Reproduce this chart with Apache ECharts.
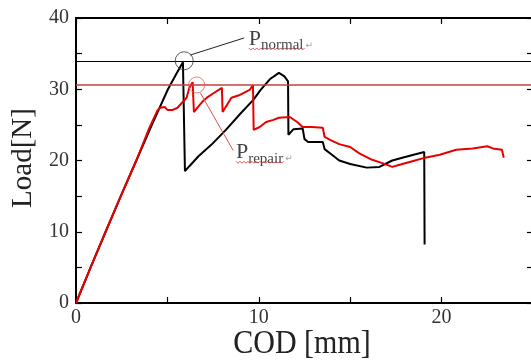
<!DOCTYPE html>
<html><head><meta charset="utf-8">
<script src="https://cdn.jsdelivr.net/npm/echarts@6/dist/echarts.min.js"></script>
<style>html,body{margin:0;padding:0;background:#fff}#c{width:531px;height:361px}</style>
</head><body><div id="c"></div>
<script>
// ---- data (COD [mm], Load [N]) ----
const codNormal  = [0,0.8,1.62,2.45,3.3,4.15,5.03,5.5,5.85,5.92,5.96,6.2,6.7,7.4,8.2,9.0,9.7,10.1,10.6,11.1,11.4,11.6,11.62,11.9,12.4,12.5,12.7,13.5,13.6,14.0,14.4,15.0,15.9,16.6,17.3,18.0,19.05,19.07];
const loadNormal = [0,5,10,15,20,25,30,32.2,33.8,33.6,18.5,19.2,20.6,22.2,24.3,26.6,28.5,29.9,31.4,32.3,31.8,31.1,23.6,24.4,24.5,23.0,22.6,22.6,21.6,20.8,20.0,19.5,19.0,19.1,20.0,20.5,21.2,8.2];
const codRepair  = [0,0.8,1.62,2.45,3.3,4.0,4.45,4.6,4.85,5.0,5.3,5.55,5.8,6.05,6.2,6.38,6.45,6.7,6.9,7.2,7.5,7.98,8.02,8.5,8.96,9.5,9.68,9.72,10.05,10.4,10.8,11.1,11.7,12.1,12.4,12.9,13.5,13.6,13.9,14.4,15.0,15.5,16.2,16.8,17.3,17.7,18.4,19.1,19.9,20.8,21.7,22.5,22.8,23.3,23.4];
const loadRepair = [0,5,10,15,20,24.5,27,27.4,27.5,27.1,27.1,27.4,28.1,28.8,30.2,31.0,26.8,27.6,28.2,28.9,29.4,30.2,26.8,28.8,29.2,29.9,30.6,24.3,24.7,25.4,25.7,26.0,26.1,25.4,24.7,24.7,24.6,23.3,22.9,22.3,21.9,21.0,20.1,19.6,19.1,19.4,19.9,20.4,20.8,21.5,21.7,22.0,21.7,21.5,20.4];
const pNormal = 34.0;          // horizontal reference line (black)
const pRepair = 30.6;          // horizontal reference line (red)
const circleNormal = [5.92, 34.0];
const circleRepair = [6.6, 30.6];
const leaderNormal = [[6.25, 34.8], [9.2, 37.2]];
const leaderRepair = [[6.8, 29.5], [8.6, 21.4]];
const labelNormalAt = [9.45, 37.2];
const labelRepairAt = [8.75, 21.3];
const xTicks = [0, 10, 20];
const yTicks = [0, 10, 20, 30, 40];

const zip = (a, b) => a.map((v, i) => [v, b[i]]);
const serif = '"Liberation Serif","Times New Roman",serif';

const chart = echarts.init(document.getElementById('c'), null, {renderer: 'canvas'});
const axisCommon = {
  min: 0, interval: 5,
  axisLine: {show: true, onZero: false, lineStyle: {color: '#000', width: 2}},
  axisTick: {show: true, inside: true, length: 6, lineStyle: {color: '#000', width: 1.2}},
  minorTick: {show: false},
  splitLine: {show: false}
};
const richLabel = (sub) => ({
  show: true, position: 'right', distance: 0,
  formatter: '{p|P}{s|' + sub + '}{r|\u21B5}',
  rich: {
    p: {fontFamily: serif, fontSize: 22, color: '#111', verticalAlign: 'bottom', lineHeight: 24},
    s: {fontFamily: serif, fontSize: 15, color: '#111', verticalAlign: 'bottom', lineHeight: 20, padding: [0,0,-3,0]},
    r: {fontFamily: '"DejaVu Sans",sans-serif', fontSize: 9, color: '#888', verticalAlign: 'bottom', lineHeight: 20, padding: [0,0,0,2]}
  }
});

chart.setOption({
  animation: false,
  backgroundColor: '#fff',
  grid: {left: 76, top: 18, width: 457, height: 285, containLabel: false, outerBoundsMode: 'none'},
  xAxis: [
    Object.assign({}, axisCommon, {type: 'value', max: 25, position: 'bottom',
      axisLabel: {show: true, margin: 5, fontFamily: serif, fontSize: 20, color: '#333',
        formatter: v => xTicks.indexOf(v) >= 0 ? String(v) : ''}}),
    Object.assign({}, axisCommon, {type: 'value', max: 25, position: 'top', axisLabel: {show: false}})
  ],
  yAxis: [
    Object.assign({}, axisCommon, {type: 'value', max: 40, position: 'left',
      axisLabel: {show: true, margin: 7, fontFamily: serif, fontSize: 20, color: '#333',
        formatter: v => yTicks.indexOf(v) >= 0 ? String(v) : ''}}),
    Object.assign({}, axisCommon, {type: 'value', max: 40, position: 'right', axisLabel: {show: false},
      axisLine: {show: true, onZero: false, lineStyle: {color: 'rgba(0,0,0,0)', width: 2}}})
  ],
  series: [
    {type: 'line', data: zip(codNormal, loadNormal), showSymbol: false, symbol: 'none',
     lineStyle: {color: '#000', width: 2}, z: 3,
     markLine: {silent: true, symbol: 'none', label: {show: false},
       data: [
         {yAxis: pNormal, lineStyle: {color: '#000', width: 1.2, type: 'solid'}},
         [{coord: leaderNormal[0]}, {coord: leaderNormal[1], lineStyle: {color: '#222', width: 1, type: 'solid'}}]
       ]}},
    {type: 'line', data: zip(codRepair, loadRepair), showSymbol: false, symbol: 'none',
     lineStyle: {color: '#e80000', width: 2}, z: 4,
     markLine: {silent: true, symbol: 'none', label: {show: false},
       data: [
         {yAxis: pRepair, lineStyle: {color: '#c4413c', width: 1.5, type: 'solid'}},
         [{coord: leaderRepair[0]}, {coord: leaderRepair[1], lineStyle: {color: '#e05050', width: 1, type: 'solid'}}]
       ]}},
    {type: 'scatter', data: [circleNormal], symbol: 'circle', symbolSize: 18, z: 5,
     itemStyle: {color: 'rgba(0,0,0,0)', borderColor: '#333', borderWidth: 1}},
    {type: 'scatter', data: [circleRepair], symbol: 'circle', symbolSize: 16, z: 5,
     itemStyle: {color: 'rgba(0,0,0,0)', borderColor: '#e46060', borderWidth: 1}},
    {type: 'scatter', data: [labelNormalAt], symbolSize: 0, z: 6, label: richLabel('normal')},
    {type: 'scatter', data: [labelRepairAt], symbolSize: 0, z: 6, label: richLabel('repair')}
  ]
});

// axis titles and wavy "spell-check" underlines
function wavy(x0, x1, y) {
  const pts = []; let up = true;
  for (let x = x0; x <= x1; x += 2) { pts.push([x, y + (up ? -1 : 1)]); up = !up; }
  return {type: 'polyline', shape: {points: pts}, style: {stroke: '#e03030', lineWidth: 0.8, fill: null}, z: 10};
}
const pN = chart.convertToPixel({gridIndex: 0}, labelNormalAt);
const pR = chart.convertToPixel({gridIndex: 0}, labelRepairAt);
chart.setOption({graphic: [
  {type: 'text', x: 302, y: 344, scaleY: 1.15, z: 10,
   style: {text: 'COD [mm]', fontFamily: serif, fontSize: 30, fill: '#222', align: 'center', verticalAlign: 'middle'}},
  {type: 'text', x: 23, y: 158, rotation: Math.PI / 2, z: 10,
   style: {text: 'Load[N]', fontFamily: serif, fontSize: 29, fill: '#222', align: 'center', verticalAlign: 'middle'}},
  wavy(pN[0], pN[0] + 57, pN[1] + 11),
  wavy(pR[0], pR[0] + 48, pR[1] + 11)
]});
</script></body></html>
